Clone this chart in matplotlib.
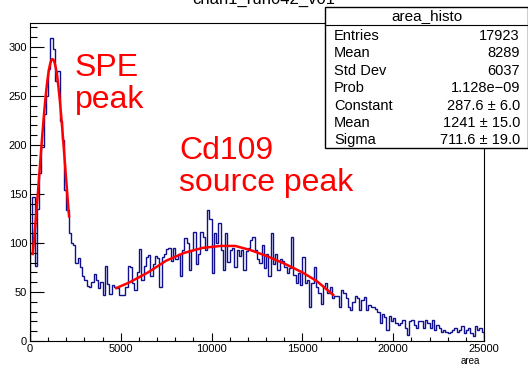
import matplotlib
matplotlib.use("Agg")
import matplotlib.pyplot as plt
import numpy as np
from matplotlib.ticker import MultipleLocator
from matplotlib.patches import Rectangle
from matplotlib.lines import Line2D

plt.rcParams['font.family'] = ['Liberation Sans', 'DejaVu Sans']

# histogram: 200 bins, 0..25000
bin_edges_lo, bin_edges_hi, n_bins = 0, 25000, 200
counts = [
    90, 147, 77, 135, 171, 198, 232, 250, 278, 309,
    298, 265, 276, 225, 205, 154, 134, 110, 100, 98,
    80, 85, 76, 66, 62, 56, 55, 60, 68, 62,
    54, 60, 47, 77, 58, 48, 57, 55, 54, 47,
    47, 47, 55, 77, 76, 59, 52, 70, 94, 62,
    77, 86, 88, 66, 79, 87, 85, 55, 86, 89,
    94, 95, 82, 95, 84, 89, 66, 93, 105, 100,
    72, 93, 111, 79, 89, 111, 106, 93, 134, 124,
    69, 110, 100, 120, 93, 72, 110, 81, 93, 95,
    76, 93, 87, 93, 72, 92, 95, 103, 106, 93,
    84, 80, 98, 74, 89, 66, 110, 79, 89, 72,
    84, 82, 76, 69, 74, 106, 67, 59, 69, 57,
    86, 59, 62, 35, 59, 76, 55, 49, 38, 55,
    59, 49, 55, 44, 46, 46, 35, 52, 49, 44,
    35, 32, 40, 46, 44, 32, 42, 45, 32, 37,
    35, 35, 33, 30, 18, 28, 25, 11, 26, 20,
    23, 18, 16, 18, 21, 13, 6, 20, 21, 16,
    13, 20, 20, 13, 21, 18, 13, 21, 11, 16,
    13, 9, 11, 9, 8, 9, 11, 13, 9, 11,
    15, 8, 11, 13, 8, 5, 15, 11, 13, 9,
]

# SPE gaussian fit (parameters from stats box), fit range
spe_const, spe_mean, spe_sigma = 287.6, 1241, 711.6
spe_range = (150, 2150)

# source peak fit
src_x = [4750, 5500, 6500, 7500, 8500, 9500, 10500, 11300, 12100, 13000, 14000, 15000, 15800, 16700]
src_y = [54, 60, 70, 82, 90, 95, 97, 97, 93, 87, 79, 70, 61, 47]

stats_rows = [("Entries", "17923"), ("Mean", "8289"), ("Std Dev", "6037"),
              ("Prob", "1.128e\u221209"), ("Constant", "287.6 \u00b1 6.0"),
              ("Mean", "1241 \u00b1 15.0"), ("Sigma", "711.6 \u00b1 19.0")]

W, H = 528, 367
fig = plt.figure(figsize=(W / 100, H / 100), dpi=100)
ax = fig.add_axes([30 / W, 1 - 341 / H, 454 / W, 318 / H])

edges = np.linspace(bin_edges_lo, bin_edges_hi, n_bins + 1)
ax.stairs(counts, edges, color='#10108f', lw=1.0)

xs = np.linspace(spe_range[0], spe_range[1], 100)
ax.plot(xs, spe_const * np.exp(-0.5 * ((xs - spe_mean) / spe_sigma) ** 2), color='red', lw=1.8)
ax.plot(src_x, src_y, color='red', lw=1.8)

ax.set_xlim(0, 25000)
ax.set_ylim(0, 324.5)
ax.xaxis.set_major_locator(MultipleLocator(5000))
ax.xaxis.set_minor_locator(MultipleLocator(1000))
ax.yaxis.set_major_locator(MultipleLocator(50))
ax.yaxis.set_minor_locator(MultipleLocator(10))
ax.tick_params(axis='both', which='both', direction='in', labelsize=8, width=0.8, pad=2)
ax.tick_params(axis='y', which='major', length=10)
ax.tick_params(axis='y', which='minor', length=5)
ax.tick_params(axis='x', which='major', length=6)
ax.tick_params(axis='x', which='minor', length=3)
for s in ax.spines.values():
    s.set_linewidth(0.8)

ax.text(0.098, 0.905, "SPE\npeak", transform=ax.transAxes, color='red',
        fontsize=23, va='top', ha='left', linespacing=1.08)
ax.text(0.328, 0.645, "Cd109\nsource peak", transform=ax.transAxes, color='red',
        fontsize=23, va='top', ha='left', linespacing=1.08)

fig.text(0.5, 1 - 4 / H, "chan1_run042_v01", ha='center', va='baseline', fontsize=12)
fig.text(470 / W, 1 - 361 / H, "area", ha='center', va='center', fontsize=7)

# stats box
bx0, bx1, by0, by1 = 325, 528, 7, 148
fig.patches.append(Rectangle((bx0 / W, 1 - by1 / H), (bx1 - bx0) / W, (by1 - by0) / H,
                             transform=fig.transFigure, facecolor='white',
                             edgecolor='black', lw=1.0, zorder=5))
fig.lines.append(Line2D([bx0 / W, bx1 / W], [1 - 25 / H, 1 - 25 / H],
                        transform=fig.transFigure, color='black', lw=0.8, zorder=6))
fig.text((bx0 + bx1) / 2 / W, 1 - 16.5 / H, "area_histo", ha='center', va='center',
         fontsize=11, zorder=7)
for i, (k, v) in enumerate(stats_rows):
    yy = 1 - (36 + 17.4 * i) / H
    fig.text(334 / W, yy, k, ha='left', va='center', fontsize=10.5, zorder=7)
    fig.text(520 / W, yy, v, ha='right', va='center', fontsize=10.5, zorder=7)

fig.savefig("out.png", dpi=100)
